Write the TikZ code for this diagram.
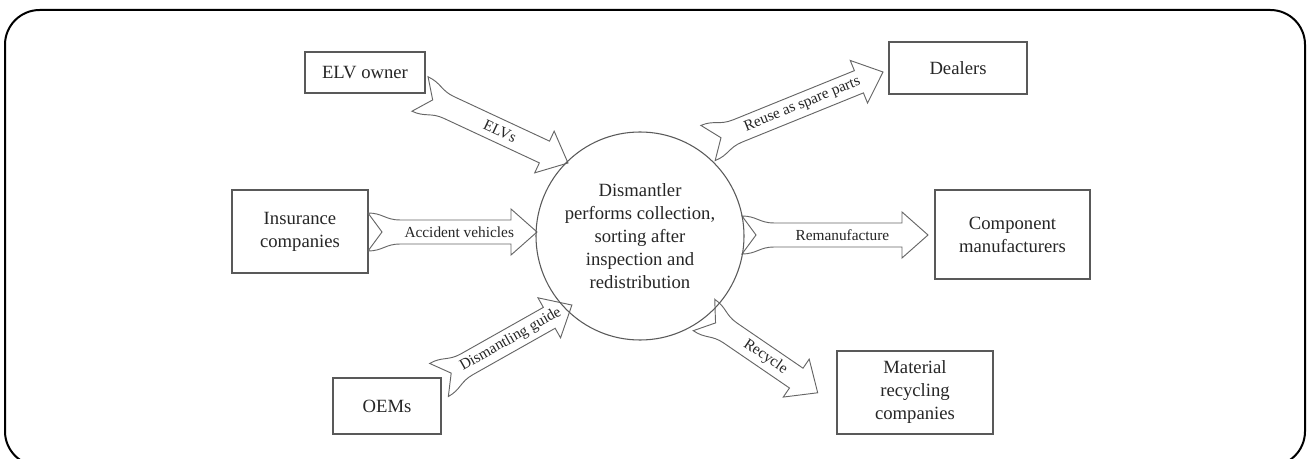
\documentclass[tikz,border=0pt]{standalone}
\usepackage{fontspec}
\setmainfont{Liberation Serif}
\usetikzlibrary{calc}
\newcommand\bxfont{\fontsize{14}{17.25}\selectfont}
\newcommand\arfont{\fontsize{11.5}{13}\selectfont}
\tikzset{
  frame/.style={draw=black, line width=1.5pt, rounded corners=26pt},
  box/.style={draw=black!65, line width=0.9pt, fill=white, align=center, font=\bxfont, text=black!85, inner sep=0pt, outer sep=0pt},
  hub/.style={circle, draw=black!65, line width=0.8pt, align=center, font=\bxfont, text=black!85, minimum size=156pt, inner sep=0pt},
  blk/.style={draw=black!60, line width=0.7pt, fill=white, line join=miter},
  lbl/.style={font=\arfont, text=black!85, inner sep=0pt},
}
\newcommand\blockarrow[3]{%
  \path let \p1=($(#2)-(#1)$) in \pgfextra{%
    \pgfmathsetmacro\baA{atan2(\y1,\x1)}%
    \pgfmathsetmacro\baL{veclen(\x1,\y1)}%
    \xdef\baAngle{\baA}\xdef\baLen{\baL}};
  \pgfmathsetmacro\baHx{\baLen-19.5}%
  \pgfmathsetmacro\baMid{0.54*\baLen}%
  \begin{scope}[shift={(#1)}, rotate=\baAngle]
    \draw[blk] (0pt,14.25pt) -- (10.5pt,0pt) -- (0pt,-14.25pt)
      .. controls (11pt,-14.25pt) and (13pt,-9pt) .. (24pt,-9pt)
      -- (\baHx pt,-9pt) -- (\baHx pt,-17.25pt) -- (\baLen pt,0pt)
      -- (\baHx pt,17.25pt) -- (\baHx pt,9pt) -- (24pt,9pt)
      .. controls (13pt,9pt) and (11pt,14.25pt) .. (0pt,14.25pt) -- cycle;
    \node[lbl, transform shape] at (\baMid pt,0pt) {#3};
  \end{scope}}
\begin{document}
\begin{tikzpicture}[x=0.75pt, y=-0.75pt]
\useasboundingbox (0,0) rectangle (1307,459);
\draw[frame] (5,10) rectangle (1305,466);
% boxes
\node[box, minimum width=90pt, minimum height=30.75pt] (elv) at (365,72.5) {ELV owner};
\node[box, minimum width=102pt, minimum height=62.25pt] (ins) at (300,231.5) {Insurance\\companies};
\node[box, minimum width=81pt, minimum height=42pt] (oem) at (387,406) {OEMs};
\node[box, minimum width=103.5pt, minimum height=39pt] (dea) at (958,68) {Dealers};
\node[box, minimum width=116.25pt, minimum height=66.75pt] (com) at (1012.5,234.5) {Component\\manufacturers};
\node[box, minimum width=117pt, minimum height=62.25pt] (mat) at (915,392.5) {Material\\recycling\\companies};
% arrow end points
\coordinate (a1s) at (420,94);  \coordinate (a1e) at (568,163);
\coordinate (a2s) at (368,232); \coordinate (a2e) at (537,232);
\coordinate (a3s) at (439,380); \coordinate (a3e) at (572,305);
\coordinate (a4s) at (708,143); \coordinate (a4e) at (883,72);
\coordinate (a5s) at (742,235); \coordinate (a5e) at (928,235);
\coordinate (a6s) at (704,315); \coordinate (a6e) at (818,393);
\blockarrow{a1s}{a1e}{ELVs}
\blockarrow{a2s}{a2e}{Accident vehicles}
\blockarrow{a3s}{a3e}{Dismantling guide}
\blockarrow{a4s}{a4e}{Reuse as spare parts}
\blockarrow{a5s}{a5e}{Remanufacture}
\blockarrow{a6s}{a6e}{Recycle}
% hub
\node[hub] (dis) at (640,236) {Dismantler\\performs collection,\\sorting after\\inspection and\\redistribution};
\end{tikzpicture}
\end{document}
